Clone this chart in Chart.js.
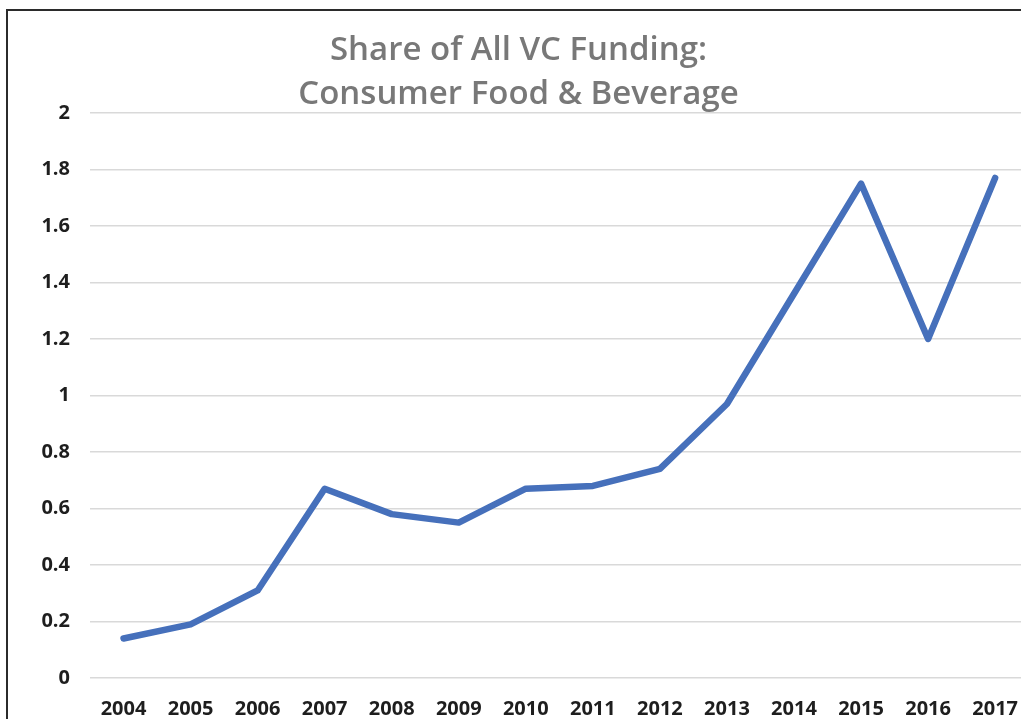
<!DOCTYPE html>
<html lang="en">
<head>
    <meta charset="UTF-8">
    <title>Share of All VC Funding: Consumer Food &amp; Beverage</title>
    <script src="https://cdn.jsdelivr.net/npm/chart.js"></script>
    <style>
        html, body { margin: 0; padding: 0; background: #fff; overflow: hidden; }
        .frame {
            position: absolute; left: 6px; top: 9px; width: 1100px; height: 800px;
            border-left: 2px solid #2b2b2b; border-top: 2px solid #2b2b2b;
        }
        /* canvas is a little wider than the window: the plot runs past the right edge */
        #chart { position: absolute; left: 0; top: 0; }
    </style>
</head>
<body>
    <div class="frame"></div>
    <canvas id="chart" width="1037" height="719"></canvas>
    <script>
        // data
        const years = ['2004', '2005', '2006', '2007', '2008', '2009', '2010',
                       '2011', '2012', '2013', '2014', '2015', '2016', '2017']
        const share = [0.14, 0.19, 0.31, 0.67, 0.58, 0.55, 0.67,
                       0.68, 0.74, 0.97, 1.36, 1.75, 1.20, 1.77]
        const titleLines = ['Share of All VC Funding:', 'Consumer Food & Beverage']

        const ctx = document.querySelector('#chart').getContext('2d')
        const chart = new Chart(ctx, {
            type: 'line',
            data: {
                labels: years,
                datasets: [
                    {
                        label: 'Share',
                        data: share,
                        borderColor: '#4670bb',
                        borderWidth: 6.5,
                        borderCapStyle: 'round',
                        borderJoinStyle: 'round',
                        pointRadius: 0,
                        tension: 0,
                        fill: false
                    }
                ]
            },
            options: {
                responsive: false,
                animation: false,
                layout: { padding: 0 },
                plugins: {
                    legend: { display: false },
                    tooltip: { enabled: false },
                    title: {
                        display: true,
                        text: titleLines,
                        color: '#787878',
                        font: { family: 'Open Sans', size: 33, weight: '600', lineHeight: 1.333 },
                        padding: { top: 29, bottom: -4 }
                    }
                },
                scales: {
                    x: {
                        offset: true,
                        grid: { display: false, drawTicks: false },
                        border: { display: false },
                        ticks: {
                            color: '#1e1e1e',
                            padding: 19,
                            maxRotation: 0,
                            autoSkip: false,
                            font: { family: 'Open Sans', size: 20, weight: 'bold' }
                        },
                        afterFit(s) { s.height = 41 }
                    },
                    y: {
                        min: 0,
                        max: 2,
                        grid: { color: '#d9d9d9', lineWidth: 1.5, drawTicks: false },
                        border: { display: false },
                        ticks: {
                            stepSize: 0.2,
                            color: '#1e1e1e',
                            padding: 20,
                            font: { family: 'Open Sans', size: 20, weight: 'bold' },
                            callback: v => Math.round(v * 10) / 10
                        },
                        afterFit(s) { s.width = 90 }
                    }
                }
            }
        })
    </script>
</body>
</html>
